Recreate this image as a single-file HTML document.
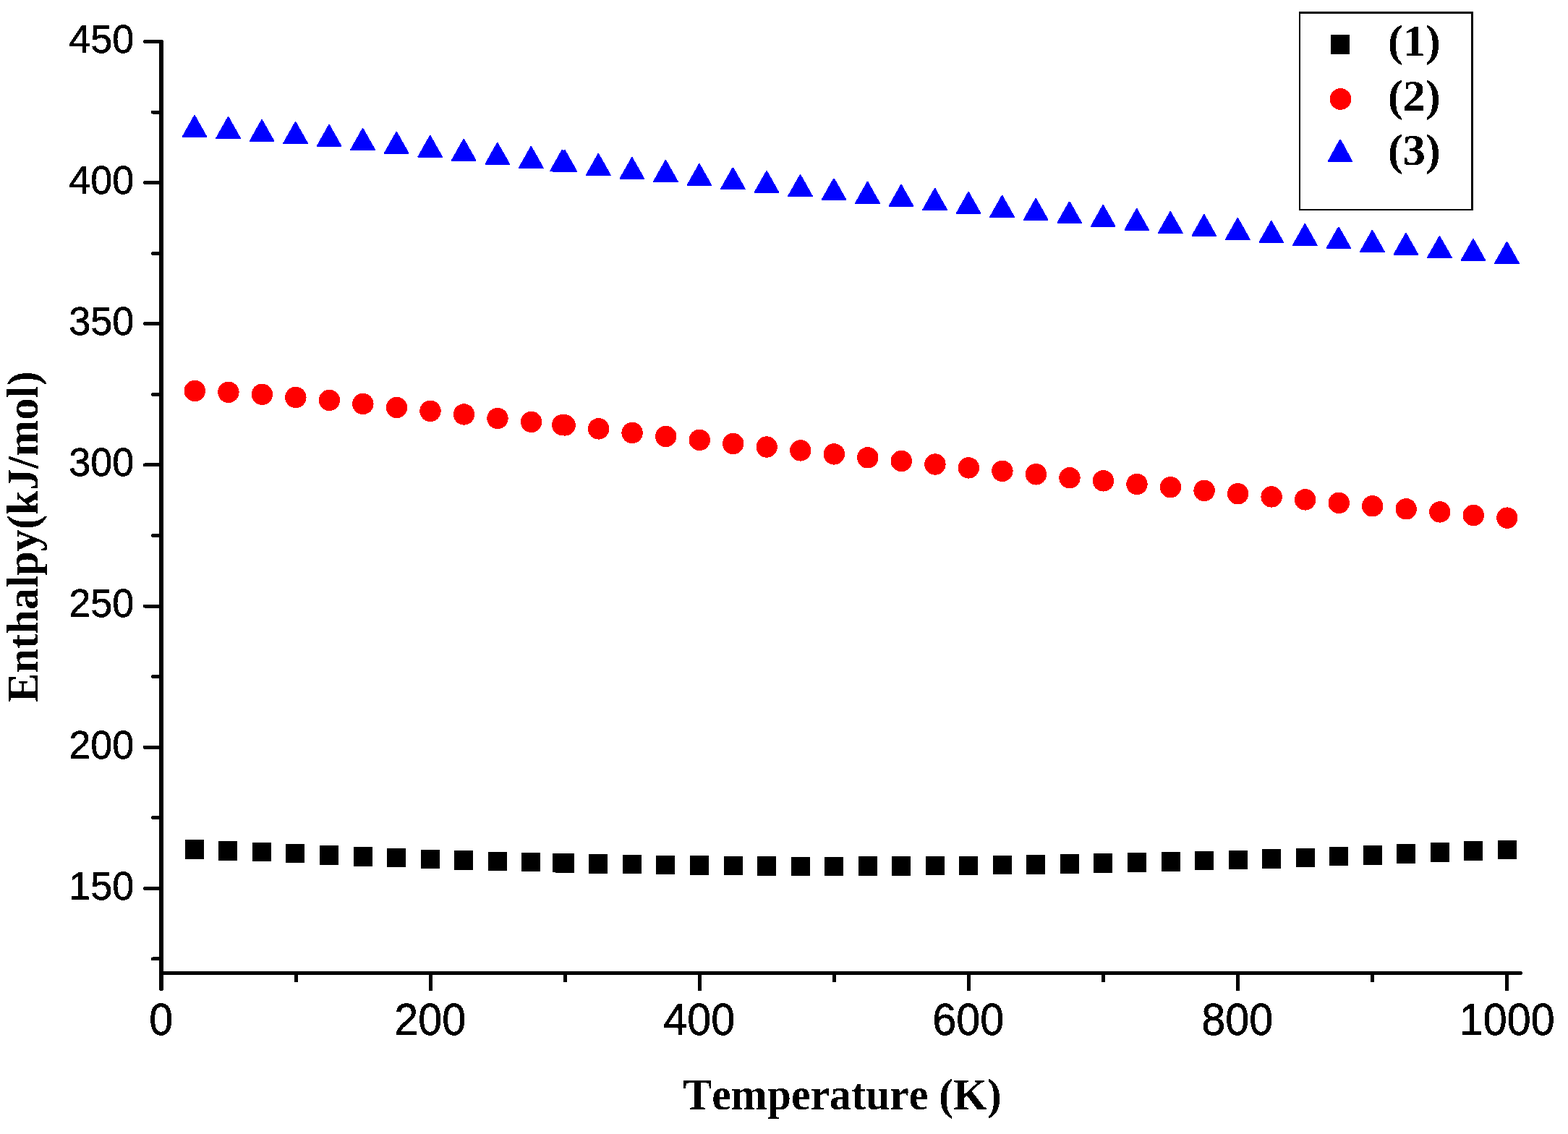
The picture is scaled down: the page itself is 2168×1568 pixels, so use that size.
<!DOCTYPE html>
<html lang="en"><head><meta charset="utf-8"><title>Enthalpy vs Temperature</title>
<style>
html,body{margin:0;padding:0;background:#fff;}
body{width:2168px;height:1568px;overflow:hidden;}
svg{display:block;}
.ax{stroke:#000;fill:none;stroke-linecap:round;}
.sans{font-family:"Liberation Sans",sans-serif;fill:#000;stroke:#000;stroke-width:0.5px;stroke-linejoin:round;}
.serif{font-family:"Liberation Serif",serif;font-weight:bold;fill:#000;}
text{font-kerning:none;font-variant-ligatures:none;}
.m{shape-rendering:crispEdges;}
</style></head><body>
<svg width="2168" height="1568" viewBox="0 0 2168 1568">
<rect x="0" y="0" width="2168" height="1568" fill="#ffffff"/>
<defs><filter id="hard" x="-5%" y="-5%" width="110%" height="110%" color-interpolation-filters="sRGB"><feComponentTransfer><feFuncA type="discrete" tableValues="0 1"/></feComponentTransfer></filter></defs>
<g class="ax m">
<line x1="223.00" y1="58.00" x2="223.00" y2="1367.00" stroke-width="6.00"/>
<line x1="223.00" y1="1345.50" x2="2102.50" y2="1345.50" stroke-width="5"/>
<line x1="200.50" y1="57.50" x2="223.00" y2="57.50" stroke-width="5"/>
<line x1="211.50" y1="155.07" x2="223.00" y2="155.07" stroke-width="5"/>
<line x1="200.50" y1="252.63" x2="223.00" y2="252.63" stroke-width="5"/>
<line x1="211.50" y1="350.20" x2="223.00" y2="350.20" stroke-width="5"/>
<line x1="200.50" y1="447.77" x2="223.00" y2="447.77" stroke-width="5"/>
<line x1="211.50" y1="545.34" x2="223.00" y2="545.34" stroke-width="5"/>
<line x1="200.50" y1="642.90" x2="223.00" y2="642.90" stroke-width="5"/>
<line x1="211.50" y1="740.47" x2="223.00" y2="740.47" stroke-width="5"/>
<line x1="200.50" y1="838.04" x2="223.00" y2="838.04" stroke-width="5"/>
<line x1="211.50" y1="935.61" x2="223.00" y2="935.61" stroke-width="5"/>
<line x1="200.50" y1="1033.17" x2="223.00" y2="1033.17" stroke-width="5"/>
<line x1="211.50" y1="1130.74" x2="223.00" y2="1130.74" stroke-width="5"/>
<line x1="200.50" y1="1228.31" x2="223.00" y2="1228.31" stroke-width="5"/>
<line x1="211.50" y1="1325.88" x2="223.00" y2="1325.88" stroke-width="5"/>
<line x1="409.50" y1="1345.50" x2="409.50" y2="1358.30" stroke-width="5" stroke-linecap="butt"/>
<line x1="595.50" y1="1345.50" x2="595.50" y2="1369.80" stroke-width="5" stroke-linecap="butt"/>
<line x1="781.50" y1="1345.50" x2="781.50" y2="1358.30" stroke-width="5" stroke-linecap="butt"/>
<line x1="967.50" y1="1345.50" x2="967.50" y2="1369.80" stroke-width="5" stroke-linecap="butt"/>
<line x1="1153.50" y1="1345.50" x2="1153.50" y2="1358.30" stroke-width="5" stroke-linecap="butt"/>
<line x1="1339.50" y1="1345.50" x2="1339.50" y2="1369.80" stroke-width="5" stroke-linecap="butt"/>
<line x1="1525.50" y1="1345.50" x2="1525.50" y2="1358.30" stroke-width="5" stroke-linecap="butt"/>
<line x1="1711.50" y1="1345.50" x2="1711.50" y2="1369.80" stroke-width="5" stroke-linecap="butt"/>
<line x1="1897.50" y1="1345.50" x2="1897.50" y2="1358.30" stroke-width="5" stroke-linecap="butt"/>
<line x1="2083.50" y1="1345.50" x2="2083.50" y2="1369.80" stroke-width="5" stroke-linecap="butt"/>
</g>
<g class="sans" filter="url(#hard)" font-size="54.00" text-anchor="end">
<text transform="translate(185.30 72.90) scale(1 1.0250)">450</text>
<text transform="translate(185.30 268.03) scale(1 1.0250)">400</text>
<text transform="translate(185.30 463.17) scale(1 1.0250)">350</text>
<text transform="translate(185.30 658.30) scale(1 1.0250)">300</text>
<text transform="translate(185.30 853.44) scale(1 1.0250)">250</text>
<text transform="translate(185.30 1048.58) scale(1 1.0250)">200</text>
<text transform="translate(185.30 1243.71) scale(1 1.0250)">150</text>
</g>
<g class="sans" filter="url(#hard)" font-size="59.30" text-anchor="middle">
<text transform="translate(222.80 1431.00) scale(1.0000 1.0680)">0</text>
<text transform="translate(594.80 1431.00) scale(1.0000 1.0680)">200</text>
<text transform="translate(966.80 1431.00) scale(1.0000 1.0680)">400</text>
<text transform="translate(1338.80 1431.00) scale(1.0000 1.0680)">600</text>
<text transform="translate(1710.80 1431.00) scale(1.0000 1.0680)">800</text>
<text transform="translate(2083.80 1431.00) scale(1.0000 1.0680)">1000</text>
</g>
<g filter="url(#hard)"><text class="serif" font-size="61.00" text-anchor="middle" transform="translate(1164.50 1534.00) scale(0.9810 1.0150)">Temperature (K)</text></g>
<g filter="url(#hard)"><text class="serif" font-size="61.00" text-anchor="middle" transform="translate(52.00 742.20) rotate(-90) scale(0.9927 1.0100)">Enthalpy(kJ/mol)</text></g>
<g class="m" fill="#000000">
<rect x="256" y="1161" width="26" height="27"/>
<rect x="302" y="1163" width="26" height="27"/>
<rect x="349" y="1165" width="26" height="26"/>
<rect x="395" y="1167" width="26" height="26"/>
<rect x="442" y="1169" width="26" height="27"/>
<rect x="489" y="1171" width="26" height="27"/>
<rect x="535" y="1173" width="26" height="26"/>
<rect x="582" y="1175" width="26" height="26"/>
<rect x="628" y="1176" width="26" height="27"/>
<rect x="675" y="1178" width="26" height="26"/>
<rect x="721" y="1179" width="26" height="26"/>
<rect x="764" y="1180" width="26" height="26"/>
<rect x="768" y="1180" width="26" height="27"/>
<rect x="814" y="1181" width="26" height="27"/>
<rect x="861" y="1182" width="26" height="26"/>
<rect x="907" y="1183" width="26" height="26"/>
<rect x="954" y="1183" width="26" height="27"/>
<rect x="1001" y="1184" width="26" height="26"/>
<rect x="1047" y="1184" width="26" height="27"/>
<rect x="1094" y="1185" width="26" height="26"/>
<rect x="1140" y="1185" width="26" height="26"/>
<rect x="1187" y="1184" width="26" height="27"/>
<rect x="1233" y="1184" width="26" height="27"/>
<rect x="1280" y="1184" width="26" height="26"/>
<rect x="1326" y="1184" width="26" height="26"/>
<rect x="1373" y="1183" width="26" height="26"/>
<rect x="1419" y="1182" width="26" height="27"/>
<rect x="1466" y="1181" width="26" height="27"/>
<rect x="1512" y="1180" width="26" height="27"/>
<rect x="1559" y="1179" width="26" height="27"/>
<rect x="1606" y="1178" width="26" height="27"/>
<rect x="1652" y="1177" width="26" height="26"/>
<rect x="1699" y="1176" width="26" height="26"/>
<rect x="1745" y="1174" width="26" height="27"/>
<rect x="1792" y="1173" width="26" height="26"/>
<rect x="1838" y="1171" width="26" height="26"/>
<rect x="1885" y="1169" width="26" height="27"/>
<rect x="1931" y="1167" width="26" height="27"/>
<rect x="1978" y="1165" width="26" height="27"/>
<rect x="2024" y="1163" width="26" height="27"/>
<rect x="2071" y="1162" width="26" height="26"/>
</g>
<g class="m" fill="#ff0000">
<circle cx="269.3" cy="540.5" r="14.7"/>
<circle cx="315.9" cy="542.4" r="14.7"/>
<circle cx="362.4" cy="545.3" r="14.7"/>
<circle cx="408.9" cy="549.5" r="14.7"/>
<circle cx="455.4" cy="553.4" r="14.7"/>
<circle cx="501.9" cy="558.5" r="14.7"/>
<circle cx="548.5" cy="563.5" r="14.7"/>
<circle cx="595.0" cy="568.4" r="14.7"/>
<circle cx="641.5" cy="573.0" r="14.7"/>
<circle cx="688.0" cy="578.5" r="14.7"/>
<circle cx="734.6" cy="583.4" r="14.7"/>
<circle cx="777.7" cy="587.6" r="14.7"/>
<circle cx="781.1" cy="587.9" r="14.7"/>
<circle cx="827.6" cy="592.9" r="14.7"/>
<circle cx="874.1" cy="598.5" r="14.7"/>
<circle cx="920.7" cy="603.5" r="14.7"/>
<circle cx="967.2" cy="608.4" r="14.7"/>
<circle cx="1013.7" cy="613.5" r="14.7"/>
<circle cx="1060.2" cy="618.0" r="14.7"/>
<circle cx="1106.8" cy="622.9" r="14.7"/>
<circle cx="1153.3" cy="627.9" r="14.7"/>
<circle cx="1199.8" cy="632.8" r="14.7"/>
<circle cx="1246.3" cy="637.5" r="14.7"/>
<circle cx="1292.9" cy="642.0" r="14.7"/>
<circle cx="1339.4" cy="646.9" r="14.7"/>
<circle cx="1385.9" cy="651.4" r="14.7"/>
<circle cx="1432.5" cy="655.8" r="14.7"/>
<circle cx="1479.0" cy="660.7" r="14.7"/>
<circle cx="1525.5" cy="664.9" r="14.7"/>
<circle cx="1572.0" cy="669.5" r="14.7"/>
<circle cx="1618.5" cy="673.7" r="14.7"/>
<circle cx="1665.1" cy="678.4" r="14.7"/>
<circle cx="1711.6" cy="682.8" r="14.7"/>
<circle cx="1758.1" cy="686.9" r="14.7"/>
<circle cx="1804.6" cy="690.9" r="14.7"/>
<circle cx="1851.2" cy="695.4" r="14.7"/>
<circle cx="1897.7" cy="699.8" r="14.7"/>
<circle cx="1944.2" cy="703.8" r="14.7"/>
<circle cx="1990.8" cy="707.9" r="14.7"/>
<circle cx="2037.3" cy="712.5" r="14.7"/>
<circle cx="2083.8" cy="716.1" r="14.7"/>
</g>
<g class="m" fill="#0000ff">
<polygon points="251.8,189.8 251.8,188.6 268.2,159.4 269.8,159.4 286.2,188.6 286.2,189.8"/>
<polygon points="298.4,191.8 298.4,190.6 314.8,161.4 316.4,161.4 332.8,190.6 332.8,191.8"/>
<polygon points="344.9,195.8 344.9,194.6 361.3,165.4 362.9,165.4 379.3,194.6 379.3,195.8"/>
<polygon points="391.4,198.8 391.4,197.6 407.8,168.4 409.4,168.4 425.8,197.6 425.8,198.8"/>
<polygon points="437.9,202.7 437.9,201.5 454.3,172.3 455.9,172.3 472.3,201.5 472.3,202.7"/>
<polygon points="484.4,207.8 484.4,206.6 500.8,177.4 502.4,177.4 518.9,206.6 518.9,207.8"/>
<polygon points="531.0,212.6 531.0,211.4 547.4,182.2 549.0,182.2 565.4,211.4 565.4,212.6"/>
<polygon points="577.5,217.7 577.5,216.5 593.9,187.3 595.5,187.3 611.9,216.5 611.9,217.7"/>
<polygon points="624.0,222.6 624.0,221.4 640.4,192.2 642.0,192.2 658.4,221.4 658.4,222.6"/>
<polygon points="670.5,227.6 670.5,226.4 687.0,197.2 688.5,197.2 705.0,226.4 705.0,227.6"/>
<polygon points="717.1,232.7 717.1,231.5 733.5,202.3 735.1,202.3 751.5,231.5 751.5,232.7"/>
<polygon points="760.2,237.3 760.2,236.1 776.6,206.9 778.2,206.9 794.6,236.1 794.6,237.3"/>
<polygon points="763.6,237.7 763.6,236.5 780.0,207.3 781.6,207.3 798.0,236.5 798.0,237.7"/>
<polygon points="810.1,242.7 810.1,241.5 826.5,212.3 828.1,212.3 844.5,241.5 844.5,242.7"/>
<polygon points="856.6,247.8 856.6,246.6 873.1,217.4 874.6,217.4 891.1,246.6 891.1,247.8"/>
<polygon points="903.2,251.7 903.2,250.5 919.6,221.3 921.2,221.3 937.6,250.5 937.6,251.7"/>
<polygon points="949.7,256.8 949.7,255.6 966.1,226.4 967.7,226.4 984.1,255.6 984.1,256.8"/>
<polygon points="996.2,261.9 996.2,260.7 1012.6,231.5 1014.2,231.5 1030.6,260.7 1030.6,261.9"/>
<polygon points="1042.8,266.7 1042.8,265.5 1059.2,236.3 1060.8,236.3 1077.2,265.5 1077.2,266.7"/>
<polygon points="1089.3,271.8 1089.3,270.6 1105.7,241.4 1107.3,241.4 1123.7,270.6 1123.7,271.8"/>
<polygon points="1135.8,276.9 1135.8,275.7 1152.2,246.5 1153.8,246.5 1170.2,275.7 1170.2,276.9"/>
<polygon points="1182.3,281.5 1182.3,280.3 1198.7,251.1 1200.3,251.1 1216.7,280.3 1216.7,281.5"/>
<polygon points="1228.8,285.6 1228.8,284.4 1245.2,255.2 1246.8,255.2 1263.2,284.4 1263.2,285.6"/>
<polygon points="1275.4,290.7 1275.4,289.5 1291.8,260.3 1293.4,260.3 1309.8,289.5 1309.8,290.7"/>
<polygon points="1321.9,295.7 1321.9,294.5 1338.3,265.3 1339.9,265.3 1356.3,294.5 1356.3,295.7"/>
<polygon points="1368.4,300.6 1368.4,299.4 1384.8,270.2 1386.4,270.2 1402.8,299.4 1402.8,300.6"/>
<polygon points="1415.0,304.7 1415.0,303.5 1431.4,274.3 1433.0,274.3 1449.4,303.5 1449.4,304.7"/>
<polygon points="1461.5,308.9 1461.5,307.7 1477.9,278.5 1479.5,278.5 1495.9,307.7 1495.9,308.9"/>
<polygon points="1508.0,313.7 1508.0,312.5 1524.4,283.3 1526.0,283.3 1542.4,312.5 1542.4,313.7"/>
<polygon points="1554.5,318.8 1554.5,317.6 1570.9,288.4 1572.5,288.4 1588.9,317.6 1588.9,318.8"/>
<polygon points="1601.0,322.7 1601.0,321.5 1617.5,292.3 1619.0,292.3 1635.5,321.5 1635.5,322.7"/>
<polygon points="1647.6,326.8 1647.6,325.6 1664.0,296.4 1665.6,296.4 1682.0,325.6 1682.0,326.8"/>
<polygon points="1694.1,331.7 1694.1,330.5 1710.5,301.3 1712.1,301.3 1728.5,330.5 1728.5,331.7"/>
<polygon points="1740.6,335.8 1740.6,334.6 1757.0,305.4 1758.6,305.4 1775.0,334.6 1775.0,335.8"/>
<polygon points="1787.1,339.7 1787.1,338.5 1803.5,309.3 1805.1,309.3 1821.5,338.5 1821.5,339.7"/>
<polygon points="1833.7,343.9 1833.7,342.7 1850.1,313.5 1851.7,313.5 1868.1,342.7 1868.1,343.9"/>
<polygon points="1880.2,348.7 1880.2,347.5 1896.6,318.3 1898.2,318.3 1914.6,347.5 1914.6,348.7"/>
<polygon points="1926.7,352.6 1926.7,351.4 1943.1,322.2 1944.7,322.2 1961.1,351.4 1961.1,352.6"/>
<polygon points="1973.2,356.8 1973.2,355.6 1989.7,326.4 1991.2,326.4 2007.7,355.6 2007.7,356.8"/>
<polygon points="2019.8,360.7 2019.8,359.5 2036.2,330.3 2037.8,330.3 2054.2,359.5 2054.2,360.7"/>
<polygon points="2066.3,364.6 2066.3,363.4 2082.7,334.2 2084.3,334.2 2100.7,363.4 2100.7,364.6"/>
</g>
<g class="m" fill="#000000">
<rect x="1796" y="16" width="241" height="275" fill="#ffffff"/>
<rect x="1796" y="16" width="241" height="3"/>
<rect x="1796" y="289" width="241" height="2"/>
<rect x="1796" y="16" width="2" height="275"/>
<rect x="2034" y="16" width="3" height="275"/>
</g>
<g class="m">
<rect x="1840" y="48" width="26" height="27" fill="#000000"/>
<circle cx="1853.5" cy="137" r="14.8" fill="#ff0000"/>
<g fill="#0000ff"><polygon points="1835.8,224.0 1835.8,222.8 1852.2,192.7 1853.8,192.7 1870.2,222.8 1870.2,224.0"/></g>
</g>
<g class="serif" filter="url(#hard)" font-size="63.00">
<text transform="translate(1919.00 77.10) scale(0.9900 0.9850)">(1)</text>
<text transform="translate(1919.00 152.90) scale(0.9900 0.9850)">(2)</text>
<text transform="translate(1919.00 228.00) scale(0.9900 0.9850)">(3)</text>
</g>
</svg>
</body></html>
